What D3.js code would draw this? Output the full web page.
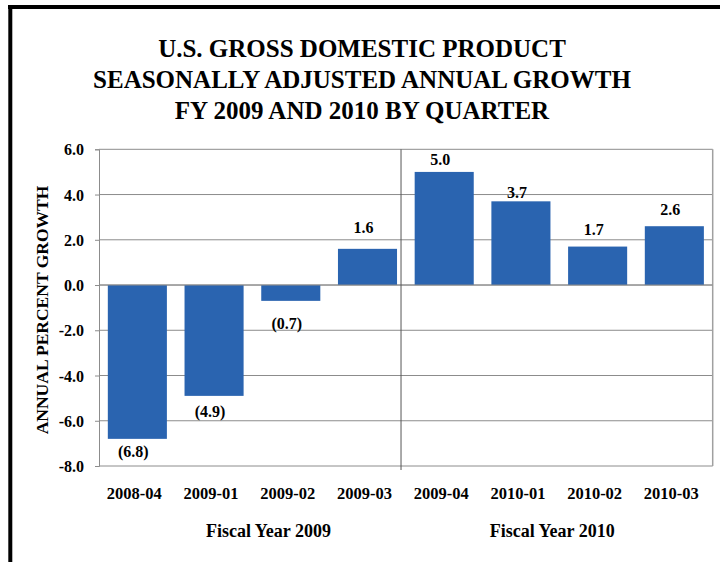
<!DOCTYPE html>
<html>
<head>
<meta charset="utf-8">
<script src="https://cdn.jsdelivr.net/npm/d3@7"></script>
<style>
  html, body { margin: 0; padding: 0; background: #fff; }
  text { font-family: "Liberation Serif", "Times New Roman", serif; font-weight: bold; fill: #000; }
</style>
</head>
<body>
<div id="chart"></div>
<script>
// data
const quarters = ["2008-04", "2009-01", "2009-02", "2009-03", "2009-04", "2010-01", "2010-02", "2010-03"];
const growth = [-6.8, -4.9, -0.7, 1.6, 5.0, 3.7, 1.7, 2.6];
const fiscalYears = ["Fiscal Year 2009", "Fiscal Year 2010"];
const yTicks = [6, 4, 2, 0, -2, -4, -6, -8];
const titleLines = ["U.S. GROSS DOMESTIC PRODUCT", "SEASONALLY ADJUSTED ANNUAL GROWTH", "FY 2009 AND 2010 BY QUARTER"];

// gap between bar end and its label (the source labels were nudged by hand)
const labelGap = [7, 10, 17, 16, 7, 3, 12, 11];

const width = 720, height = 562;
const plot = { left: 99, right: 712.7, top: 149.3, bottom: 466 };
const barColor = "#2a64b0";

const svg = d3.select("#chart").append("svg")
  .attr("width", width)
  .attr("height", height);

// frame (top and left only)
svg.append("line").attr("x1", 8).attr("x2", width).attr("y1", 7).attr("y2", 7)
  .attr("stroke", "#000").attr("stroke-width", 4);
svg.append("line").attr("x1", 10.3).attr("x2", 10.3).attr("y1", 5).attr("y2", height)
  .attr("stroke", "#000").attr("stroke-width", 4);

// title
svg.append("g").selectAll("text")
  .data(titleLines)
  .enter().append("text")
  .attr("x", 362)
  .attr("y", (d, i) => 57 + i * 31)
  .attr("text-anchor", "middle")
  .style("font-size", "25px")
  .text(d => d);

const x = d3.scaleBand()
  .domain(quarters)
  .range([plot.left, plot.right])
  .paddingInner(0.23)
  .paddingOuter(0.115);

const y = d3.scaleLinear()
  .domain([-8, 6])
  .range([plot.bottom, plot.top]);

// gridlines
svg.append("g").selectAll("line")
  .data(yTicks)
  .enter().append("line")
  .attr("x1", plot.left).attr("x2", plot.right)
  .attr("y1", d => y(d)).attr("y2", d => y(d))
  .attr("stroke", "#8c8c8c").attr("stroke-width", 1);

// right border
svg.append("line")
  .attr("x1", plot.right).attr("x2", plot.right)
  .attr("y1", plot.top).attr("y2", plot.bottom)
  .attr("stroke", "#a0a0a0").attr("stroke-width", 1.5);

// y axis
const yAxis = svg.append("g")
  .attr("transform", "translate(" + plot.left + ",0)")
  .call(d3.axisLeft(y).tickValues(yTicks).tickSize(4).tickPadding(11).tickFormat(d => d.toFixed(1)));
yAxis.select(".domain").attr("stroke", "#8c8c8c");
yAxis.selectAll(".tick line").attr("stroke", "#8c8c8c");
yAxis.selectAll("text")
  .attr("font-family", null)
  .style("font-size", "16px")
  .attr("dy", "0.35em");

// y axis title
svg.append("text")
  .attr("transform", "translate(48,310) rotate(-90)")
  .attr("text-anchor", "middle")
  .style("font-size", "17.5px")
  .text("ANNUAL PERCENT GROWTH");

// bars
svg.append("g").selectAll("rect")
  .data(growth)
  .enter().append("rect")
  .attr("x", (d, i) => x(quarters[i]))
  .attr("width", x.bandwidth())
  .attr("y", d => y(Math.max(0, d)))
  .attr("height", d => Math.abs(y(d) - y(0)))
  .attr("fill", barColor);

// zero line on top of bars
svg.append("line")
  .attr("x1", plot.left).attr("x2", plot.right)
  .attr("y1", y(0)).attr("y2", y(0))
  .attr("stroke", "#8c8c8c").attr("stroke-width", 1);

// fiscal year divider
const divX = x(quarters[3]) + x.bandwidth() + 4;
svg.append("line")
  .attr("x1", divX).attr("x2", divX)
  .attr("y1", plot.top).attr("y2", plot.bottom + 4)
  .attr("stroke", "#555").attr("stroke-width", 1);

// value labels
const fmt = v => v < 0 ? "(" + (-v).toFixed(1) + ")" : v.toFixed(1);
svg.append("g").selectAll("text")
  .data(growth)
  .enter().append("text")
  .attr("x", (d, i) => x(quarters[i]) + x.bandwidth() / 2 - 4)
  .attr("y", (d, i) => d < 0 ? y(d) + labelGap[i] + 11 : y(d) - labelGap[i])
  .attr("text-anchor", "middle")
  .style("font-size", "16px")
  .text(fmt);

// category labels
svg.append("g").selectAll("text")
  .data(quarters)
  .enter().append("text")
  .attr("x", d => x(d) + x.bandwidth() / 2 - 3)
  .attr("y", 499)
  .attr("text-anchor", "middle")
  .style("font-size", "16.5px")
  .text(d => d);

// fiscal year labels
svg.append("g").selectAll("text")
  .data(fiscalYears)
  .enter().append("text")
  .attr("x", (d, i) => (x(quarters[i * 4 + 1]) + x(quarters[i * 4 + 2]) + x.bandwidth()) / 2 + (i === 0 ? 16 : -7))
  .attr("y", 537)
  .attr("text-anchor", "middle")
  .style("font-size", "18px")
  .text(d => d);
</script>
</body>
</html>
